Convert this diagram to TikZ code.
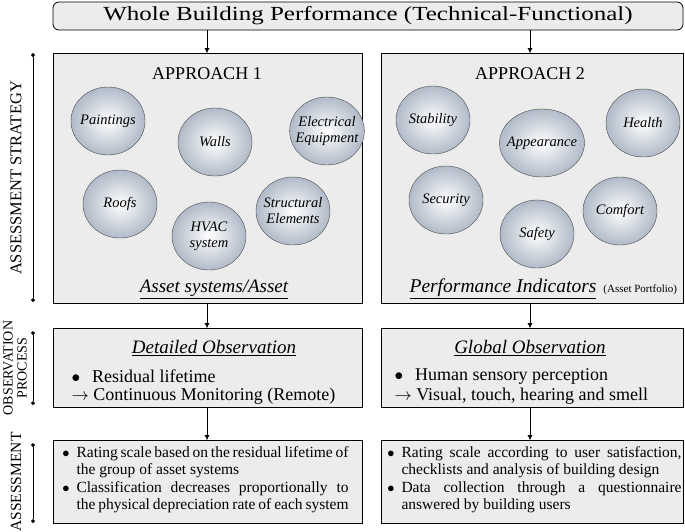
\documentclass[tikz,border=0pt]{standalone}
\usepackage{fontspec}
\setmainfont{Liberation Serif}
\usetikzlibrary{positioning}
\usetikzlibrary{arrows.meta}
\usetikzlibrary{shapes.geometric}
\usepackage{xcolor}
\definecolor{boxgray}{RGB}{236,236,236}
\definecolor{bubble}{RGB}{176,186,200}
\newcommand{\nohyph}{\hyphenpenalty=10000\exhyphenpenalty=10000\relax}
\tikzset{
  panel/.style={draw, thick, fill=boxgray},
  bubble/.style={draw=black!70, ellipse, minimum width=74pt, minimum height=68pt, inner sep=-5pt,
    inner color=white, outer color=bubble, align=center, font=\fontsize{14.5}{16}\selectfont\itshape},
  flow/.style={-{Latex[length=5pt,width=5pt]}},
  axis/.style={{Diamond[length=4pt,width=4pt]}-{Diamond[length=4pt,width=4pt]}},
  side/.style={rotate=90, align=center, font=\fontsize{16.5}{16.5}\selectfont},
  bullets/.style={align=justify, text width=272pt, anchor=north west,
    font=\fontsize{15.5}{17.5}\selectfont\nohyph}
}
\newcommand{\itembul}{\leavevmode\llap{$\bullet$\hspace{7pt}}}
\begin{document}
\begin{tikzpicture}[x=1pt, y=-1pt]
  \useasboundingbox (0,0) rectangle (685,531);
  % header
  \node[draw, thick, fill=boxgray, rounded corners=6pt, minimum width=630pt, minimum height=28pt,
    font=\fontsize{20}{20}\selectfont] (whole) at (368,16) {\scalebox{1.25}[1]{Whole Building Performance (Technical-Functional)}};
  \coordinate (t1) at (207,30);
  \coordinate (t2) at (530,30);
  % approach panels
  \draw[panel] (53,53) rectangle (362,303);
  \draw[panel] (381,53) rectangle (683,303);
  \coordinate (a1top) at (207,53);  \coordinate (a1bot) at (207,303);
  \coordinate (a2top) at (530,53);  \coordinate (a2bot) at (530,303);
  \node[font=\fontsize{18}{18}\selectfont] (app1) at (207,74) {APPROACH 1};
  \node[font=\fontsize{18}{18}\selectfont] (app2) at (530,74) {APPROACH 2};
  % bubbles, approach 1
  \node[bubble] (paint) at (108,121) {Paintings};
  \node[bubble] (walls) at (215,142) {Walls};
  \node[bubble] (elec) at (327,131) {Electrical\\Equipment};
  \node[bubble] (roofs) at (120,204) {Roofs};
  \node[bubble] (hvac) at (209,236) {HVAC\\system};
  \node[bubble] (struct) at (293,211) {Structural\\Elements};
  % bubbles, approach 2
  \node[bubble] (stab) at (433,120) {Stability};
  \node[bubble] (appear) at (542,143) {Appearance};
  \node[bubble] (health) at (643,123) {Health};
  \node[bubble] (secur) at (446,200) {Security};
  \node[bubble] (safety) at (537,234) {Safety};
  \node[bubble] (comfort) at (620,211) {Comfort};
  \node[font=\fontsize{19}{19}\selectfont\itshape] (asset) at (214,289) {\underline{Asset systems/Asset}};
  \node[font=\fontsize{19.5}{19.5}\selectfont\itshape] (perf) at (503,289) {\underline{Performance Indicators}};
  \node[font=\fontsize{11}{11}\selectfont, right=0pt of perf.east, yshift=-1pt] (portfolio) {(Asset Portfolio)};
  % observation panels
  \draw[panel] (53,328) rectangle (362,407);
  \draw[panel] (381,328) rectangle (683,407);
  \coordinate (o1top) at (207,328); \coordinate (o1bot) at (207,407);
  \coordinate (o2top) at (530,328); \coordinate (o2bot) at (530,407);
  \node[font=\fontsize{19}{19}\selectfont\itshape] (detail) at (214,348) {\underline{Detailed Observation}};
  \node[font=\fontsize{19}{19}\selectfont\itshape] (global) at (530,348) {\underline{Global Observation}};
  \node[font=\fontsize{18}{18}\selectfont, anchor=west] (resid) at (68,376) {$\bullet$\hspace{12pt}Residual lifetime};
  \node[font=\fontsize{18}{18}\selectfont, anchor=west] (monit) at (68,396) {$\rightarrow$ Continuous Monitoring (Remote)};
  \node[font=\fontsize{18}{18}\selectfont, anchor=west] (human) at (391,376) {$\bullet$\hspace{12pt}Human sensory perception};
  \node[font=\fontsize{18}{18}\selectfont, anchor=west] (visual) at (391,396) {$\rightarrow$ Visual, touch, hearing and smell};
  % assessment panels
  \draw[panel] (53,440) rectangle (362,523);
  \draw[panel] (381,440) rectangle (683,523);
  \coordinate (s1top) at (207,440); \coordinate (s2top) at (530,440);
  \node[bullets] (rate1) at (73,443) {\itembul Rating scale based on the residual lifetime of the group of asset systems};
  \node[bullets] (class1) at (73,478) {\itembul Classification decreases proportionally to the physical depreciation rate of each system};
  \node[bullets, text width=280pt] (rate2) at (398,443) {\itembul Rating scale according to user satisfaction, checklists and analysis of building design};
  \node[bullets, text width=280pt] (data2) at (398,478) {\itembul Data collection through a questionnaire answered by building users};
  % flow arrows
  \draw[flow] (t1) -- (a1top);
  \draw[flow] (t2) -- (a2top);
  \draw[flow] (a1bot) -- (o1top);
  \draw[flow] (a2bot) -- (o2top);
  \draw[flow] (o1bot) -- (s1top);
  \draw[flow] (o2bot) -- (s2top);
  % side scale
  \coordinate (b1) at (33,53);  \coordinate (e1) at (33,302);
  \coordinate (b2) at (33,331); \coordinate (e2) at (33,405);
  \coordinate (b3) at (33,443); \coordinate (e3) at (33,523);
  \draw[axis] (b1) -- (e1);
  \draw[axis] (b2) -- (e2);
  \draw[axis] (b3) -- (e3);
  \node[side] (strategy) at (16,178) {ASSESSMENT STRATEGY};
  \node[side, font=\fontsize{14}{14}\selectfont] (process) at (15,368) {OBSERVATION\\PROCESS};
  \node[side, font=\fontsize{15.5}{15.5}\selectfont] (assess) at (16,482) {ASSESSMENT};
\end{tikzpicture}
\end{document}
